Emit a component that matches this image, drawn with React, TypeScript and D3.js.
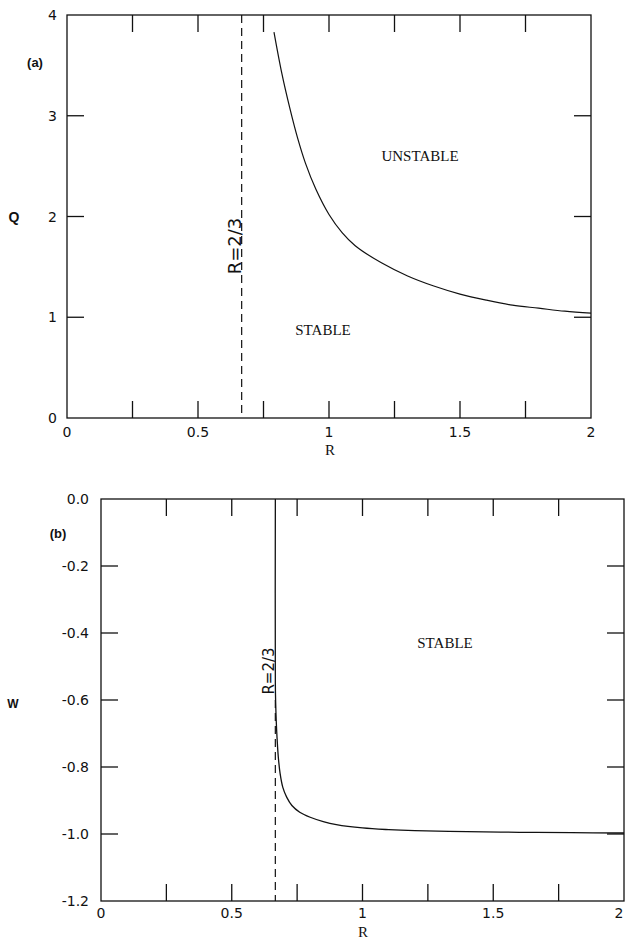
import React from "react";
import * as d3 from "d3";

// Panel (a): Q vs R stability boundary
const rA = [0.79, 0.82, 0.85, 0.88, 0.91, 0.95, 1.0, 1.05, 1.1, 1.2, 1.3, 1.4, 1.5, 1.6, 1.7, 1.8, 1.9, 2.0];
const qA = [3.83, 3.42, 3.08, 2.78, 2.53, 2.27, 2.02, 1.84, 1.71, 1.54, 1.41, 1.31, 1.23, 1.17, 1.12, 1.09, 1.06, 1.04];

// Panel (b): W vs R
const rB = [0.6667, 0.6667, 0.668, 0.67, 0.673, 0.678, 0.685, 0.695, 0.71, 0.73, 0.76, 0.8, 0.85, 0.9, 1.0, 1.1, 1.2, 1.4, 1.6, 1.8, 2.0];
const wB = [0.0, -0.55, -0.61, -0.66, -0.71, -0.77, -0.82, -0.86, -0.89, -0.915, -0.935, -0.95, -0.963, -0.972, -0.982, -0.987, -0.99, -0.993, -0.995, -0.996, -0.997];

const criticalR = 2 / 3;

const xTicks = [0.25, 0.5, 0.75, 1, 1.25, 1.5, 1.75];
const xTickLabels = [0, 0.5, 1, 1.5, 2];
const qTicks = [1, 2, 3];
const qTickLabels = [0, 1, 2, 3, 4];
const wTicks = [-0.2, -0.4, -0.6, -0.8, -1.0];
const wTickLabels = [0, -0.2, -0.4, -0.6, -0.8, -1.0, -1.2];

const TICK = 17;
const tickFont = "'DejaVu Sans', sans-serif";
const serif = "'Liberation Serif', 'Times New Roman', serif";
const boldSans = "'Liberation Sans', Arial, sans-serif";

export default function App() {
  const xa = d3.scaleLinear().domain([0, 2]).range([67, 591]);
  const ya = d3.scaleLinear().domain([0, 4]).range([418, 15]);
  const xb = d3.scaleLinear().domain([0, 2]).range([101, 624]);
  const yb = d3.scaleLinear().domain([-1.2, 0]).range([901, 499]);

  const lineA = d3
    .line<number>()
    .x((_, i) => xa(rA[i]))
    .y((d) => ya(d))
    .curve(d3.curveCatmullRom.alpha(0.5))(qA) as string;

  const lineB = d3
    .line<number>()
    .x((_, i) => xb(rB[i]))
    .y((d) => yb(d))
    .curve(d3.curveCatmullRom.alpha(0.5))(wB) as string;

  const stroke = "#111";

  const frame = (x: any, y: any, yt: number[]) => {
    const [x0, x1] = x.range();
    const [y0, y1] = y.range();
    return (
      <g stroke={stroke} strokeWidth={1.3} fill="none">
        <rect x={x0} y={y1} width={x1 - x0} height={y0 - y1} />
        {xTicks.map((t) => (
          <g key={"x" + t}>
            <line x1={x(t)} x2={x(t)} y1={y0} y2={y0 - TICK} />
            <line x1={x(t)} x2={x(t)} y1={y1} y2={y1 + TICK} />
          </g>
        ))}
        {yt.map((t) => (
          <g key={"y" + t}>
            <line x1={x0} x2={x0 + TICK} y1={y(t)} y2={y(t)} />
            <line x1={x1} x2={x1 - TICK} y1={y(t)} y2={y(t)} />
          </g>
        ))}
      </g>
    );
  };

  return (
    <svg
      width={626}
      height={940}
      style={{ position: "absolute", left: 0, top: 0, background: "#fff" }}
    >
      {/* Panel (a) */}
      {frame(xa, ya, qTicks)}
      <line
        x1={xa(criticalR)}
        x2={xa(criticalR)}
        y1={ya(4)}
        y2={ya(0)}
        stroke={stroke}
        strokeWidth={1.2}
        strokeDasharray="8,5"
      />
      <path d={lineA} fill="none" stroke={stroke} strokeWidth={1.2} />
      {xTickLabels.map((t) => (
        <text key={"axl" + t} x={xa(t)} y={437} textAnchor="middle" fontFamily={tickFont} fontSize={14} fill={stroke}>
          {String(t)}
        </text>
      ))}
      {qTickLabels.map((t) => (
        <text key={"qyl" + t} x={57} y={ya(t)} dy="0.36em" textAnchor="end" fontFamily={tickFont} fontSize={14} fill={stroke}>
          {String(t)}
        </text>
      ))}
      <text x={330} y={455} textAnchor="middle" fontFamily={serif} fontSize={15} fill={stroke}>R</text>
      <text x={14} y={217} dy="0.36em" textAnchor="middle" fontFamily={boldSans} fontWeight="bold" fontSize={14} fill={stroke}>Q</text>
      <text x={35} y={62} dy="0.36em" textAnchor="middle" fontFamily={boldSans} fontWeight="bold" fontSize={13} fill={stroke}>(a)</text>
      <text x={420} y={156} dy="0.36em" textAnchor="middle" fontFamily={serif} fontSize={15} fill={stroke}>UNSTABLE</text>
      <text x={323} y={330} dy="0.36em" textAnchor="middle" fontFamily={serif} fontSize={15} fill={stroke}>STABLE</text>
      <text
        transform={`translate(${xa(criticalR) - 1},246) rotate(-90)`}
        textAnchor="middle"
        fontFamily={tickFont}
        fontSize={18}
        fill={stroke}
      >
        R=2/3
      </text>

      {/* Panel (b) */}
      {frame(xb, yb, wTicks)}
      <line
        x1={xb(criticalR)}
        x2={xb(criticalR)}
        y1={yb(-0.6)}
        y2={yb(-1.2)}
        stroke={stroke}
        strokeWidth={1.2}
        strokeDasharray="8,5"
      />
      <path d={lineB} fill="none" stroke={stroke} strokeWidth={1.3} />
      {xTickLabels.map((t) => (
        <text key={"bxl" + t} x={Math.min(xb(t), 619)} y={918} textAnchor="middle" fontFamily={tickFont} fontSize={14} fill={stroke}>
          {String(t)}
        </text>
      ))}
      {wTickLabels.map((t) => (
        <text key={"wyl" + t} x={89} y={yb(t)} dy="0.36em" textAnchor="end" fontFamily={tickFont} fontSize={14} fill={stroke}>
          {t === 0 ? "0.0" : "-" + Math.abs(t).toFixed(1)}
        </text>
      ))}
      <text x={363} y={937} textAnchor="middle" fontFamily={serif} fontSize={15} fill={stroke}>R</text>
      <text x={13} y={704} dy="0.36em" textAnchor="middle" fontFamily={boldSans} fontWeight="bold" fontSize={12} fill={stroke}>W</text>
      <text x={58} y={533} dy="0.36em" textAnchor="middle" fontFamily={boldSans} fontWeight="bold" fontSize={13} fill={stroke}>(b)</text>
      <text x={445} y={643} dy="0.36em" textAnchor="middle" fontFamily={serif} fontSize={15} fill={stroke}>STABLE</text>
      <text
        transform={`translate(${xb(criticalR) - 1},671) rotate(-90)`}
        textAnchor="middle"
        fontFamily={tickFont}
        fontSize={15}
        fill={stroke}
      >
        R=2/3
      </text>
    </svg>
  );
}
